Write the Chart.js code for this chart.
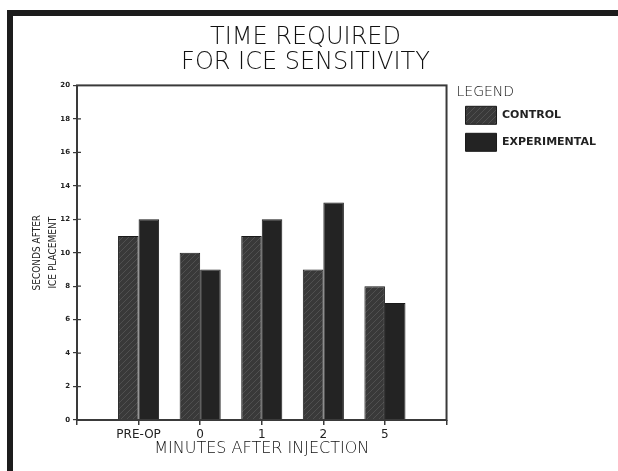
<!DOCTYPE html>
<html>
<head>
<meta charset="utf-8">
<style>
html,body{margin:0;padding:0;background:#fff;}
#wrap{position:relative;width:618px;height:471px;overflow:hidden;background:#fff;}
#c{position:absolute;left:0;top:0;}
#frame{position:absolute;left:7px;top:10px;width:620px;height:458px;border-left:6px solid #1c1c1c;border-top:6px solid #1c1c1c;border-bottom:2px solid #9a9a9a;pointer-events:none;box-sizing:content-box;}
</style>
<script src="https://cdn.jsdelivr.net/npm/chart.js@4.4.1/dist/chart.umd.min.js"></script>
</head>
<body>
<div id="wrap">
<canvas id="c" width="618" height="471"></canvas>
<div id="frame"></div>
</div>
<script>
// ---- data ----
const categories = ['PRE-OP', '0', '1', '2', '5'];
const controlValues = [11, 10, 11, 9, 8];
const experimentalValues = [12, 9, 12, 13, 7];
const yTickValues = [0, 2, 4, 6, 8, 10, 12, 14, 16, 18, 20];
const titleLines = ['TIME REQUIRED', 'FOR ICE SENSITIVITY'];
const xTitle = 'MINUTES AFTER INJECTION';
const yTitleLines = ['SECONDS AFTER', 'ICE PLACEMENT'];
const legendTitle = 'LEGEND';
const seriesNames = ['CONTROL', 'EXPERIMENTAL'];

// padded labels: one empty slot on each side
const labels = [''].concat(categories, ['']);
const pad = arr => [null].concat(arr, [null]);

function hatchPattern(base, line) {
  const c = document.createElement('canvas');
  c.width = 6; c.height = 6;
  const x = c.getContext('2d');
  x.fillStyle = base; x.fillRect(0, 0, 6, 6);
  x.strokeStyle = line; x.lineWidth = 1;
  x.beginPath();
  x.moveTo(0, 6); x.lineTo(6, 0);
  x.moveTo(-3, 3); x.lineTo(3, -3);
  x.moveTo(3, 9); x.lineTo(9, 3);
  x.stroke();
  return x.createPattern(c, 'repeat');
}

const boxPlugin = {
  id: 'plotbox',
  afterDraw(chart) {
    const {ctx, chartArea: a, scales} = chart;
    ctx.save();
    ctx.strokeStyle = '#3a3a3a';
    ctx.lineWidth = 2;
    ctx.strokeRect(a.left, a.top, a.right - a.left, a.bottom - a.top);
    // inner half of the cross-shaped y ticks
    ctx.lineWidth = 1.2;
    ctx.beginPath();
    scales.y.ticks.forEach(t => {
      const py = scales.y.getPixelForValue(t.value);
      if (t.value > 0 && t.value < 20) {
        ctx.moveTo(a.left, py); ctx.lineTo(a.left + 4, py);
      }
    });
    ctx.stroke();
    ctx.restore();
  }
};

const ctrlFill = hatchPattern('#393939', '#505050');
const expFill = '#232323';
const F = 'DejaVu Sans';

new Chart(document.getElementById('c'), {
  type: 'bar',
  data: {
    labels: labels,
    datasets: [
      { label: seriesNames[0], data: pad(controlValues), backgroundColor: ctrlFill, borderColor: '#1a1a1a', borderWidth: 1 },
      { label: seriesNames[1], data: pad(experimentalValues), backgroundColor: expFill, borderColor: '#1a1a1a', borderWidth: 1 }
    ]
  },
  options: {
    responsive: false,
    animation: false,
    devicePixelRatio: 1,
    layout: { padding: { left: 5, right: 12, top: 0, bottom: 0 } },
    datasets: { bar: { categoryPercentage: 0.667, barPercentage: 1.0 } },
    plugins: {
      tooltip: { enabled: false },
      title: {
        display: true,
        text: titleLines,
        color: '#111',
        font: { family: F, size: 24, weight: 200, lineHeight: 1.05 },
        padding: { top: 25, bottom: 10 }
      },
      legend: {
        display: true,
        position: 'right',
        align: 'start',
        fullSize: false,
        title: {
          display: true,
          text: legendTitle,
          color: '#111',
          position: 'start',
          font: { family: F, size: 14, weight: 200, lineHeight: 0.85 },
          padding: { top: 0, bottom: 0 }
        },
        labels: {
          boxWidth: 31,
          boxHeight: 18,
          padding: 9,
          color: '#222',
          font: { family: F, size: 11, weight: 'bold' }
        }
      }
    },
    scales: {
      x: {
        type: 'category',
        offset: false,
        grid: { display: true, offset: false, drawOnChartArea: false, drawTicks: true, tickLength: 5, color: '#3a3a3a', lineWidth: 1.5 },
        border: { display: false },
        ticks: { color: '#222', padding: 3, autoSkip: false, maxRotation: 0, font: { family: F, size: 12 } },
        title: { display: true, text: xTitle, color: '#111', font: { family: F, size: 16, weight: 200 }, padding: { top: 0, bottom: 13 } },
        afterFit(s) { s.height = 51; }
      },
      y: {
        type: 'linear',
        position: 'left',
        min: 0, max: 20,
        afterBuildTicks(s) { s.ticks = yTickValues.map(v => ({ value: v })); },
        grid: { display: true, drawOnChartArea: false, drawTicks: true, tickLength: 4, color: '#3a3a3a', lineWidth: 1.2 },
        border: { display: false },
        ticks: { color: '#222', padding: 3, font: { family: F, size: 7, weight: 'bold' } },
        title: { display: true, text: yTitleLines, color: '#222', font: { family: 'DejaVu Sans Condensed, DejaVu Sans', size: 10, weight: 'normal', lineHeight: '16px' }, padding: { top: 24, bottom: 0 } },
        afterFit(s) { s.width = 72; }
      },
      y2: {
        type: 'linear',
        position: 'right',
        min: 0, max: 20,
        display: false,
        afterFit(s) { s.width = 10; }
      }
    }
  },
  plugins: [boxPlugin]
});
</script>
</body>
</html>
